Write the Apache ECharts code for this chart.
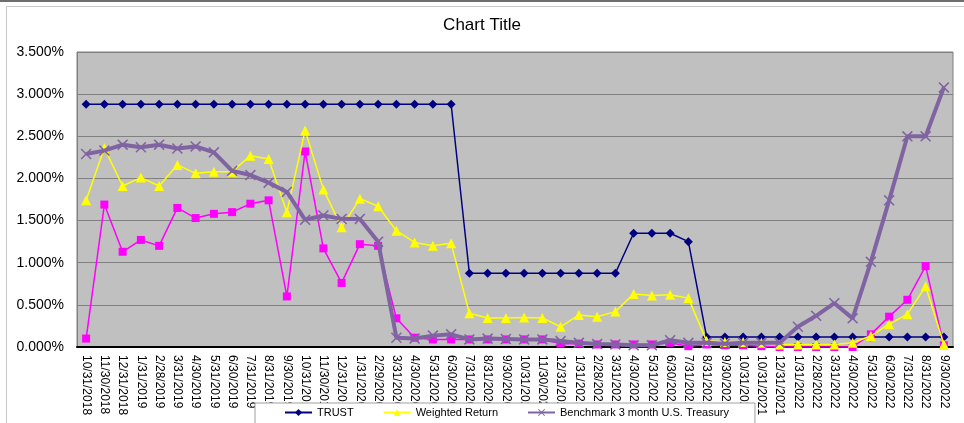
<!DOCTYPE html>
<html>
<head>
<meta charset="utf-8">
<style>
  html, body { margin: 0; padding: 0; background: #ffffff; }
  #chart { width: 964px; height: 423px; }
</style>
<script src="https://cdn.jsdelivr.net/npm/echarts@6/dist/echarts.min.js"></script>
</head>
<body>
<div id="chart"></div>
<script>
// Month-end dates (the source data repeats 10/31/2021)
const categories = [
  '10/31/2018','11/30/2018','12/31/2018',
  '1/31/2019','2/28/2019','3/31/2019','4/30/2019','5/31/2019','6/30/2019',
  '7/31/2019','8/31/2019','9/30/2019','10/31/2019','11/30/2019','12/31/2019',
  '1/31/2020','2/29/2020','3/31/2020','4/30/2020','5/31/2020','6/30/2020',
  '7/31/2020','8/31/2020','9/30/2020','10/31/2020','11/30/2020','12/31/2020',
  '1/31/2021','2/28/2021','3/31/2021','4/30/2021','5/31/2021','6/30/2021',
  '7/31/2021','8/31/2021','9/30/2021','10/31/2021','10/31/2021','12/31/2021',
  '1/31/2022','2/28/2022','3/31/2022','4/30/2022','5/31/2022','6/30/2022',
  '7/31/2022','8/31/2022','9/30/2022'
];

// Rates in percent
const trust = [
  2.88,2.88,2.88,2.88,2.88,2.88,2.88,2.88,2.88,2.88,2.88,2.88,
  2.88,2.88,2.88,2.88,2.88,2.88,2.88,2.88,2.88,
  0.875,0.875,0.875,0.875,0.875,0.875,0.875,0.875,0.875,
  1.35,1.35,1.35,1.25,
  0.12,0.12,0.12,0.12,0.12,0.12,0.12,0.12,0.12,0.12,0.12,0.12,0.12,0.12
];

const weightedReturn = [
  1.74,2.36,1.91,2.01,1.91,2.16,2.06,2.08,2.08,2.27,2.23,1.60,
  2.57,1.87,1.42,1.76,1.67,1.38,1.24,1.20,1.23,0.40,0.345,0.345,
  0.35,0.345,0.24,0.38,0.36,0.42,0.63,0.61,0.62,0.58,0.07,0.06,
  0.06,0.05,0.03,0.03,0.03,0.03,0.05,0.13,0.27,0.39,0.72,0.03
];

const fundYield = [
  0.10,1.69,1.13,1.27,1.20,1.65,1.53,1.58,1.60,1.70,1.74,0.60,
  2.32,1.17,0.76,1.22,1.20,0.34,0.11,0.09,0.09,0.09,0.09,0.09,
  0.09,0.09,0.04,0.04,0.03,0.03,0.03,0.03,0.05,0.01,0.03,0.02,
  0.02,0.01,0.00,0.00,0.00,0.00,0.00,0.15,0.36,0.56,0.96,0.02
];

const benchmark = [
  2.29,2.33,2.40,2.37,2.40,2.355,2.38,2.31,2.09,2.04,1.95,1.84,
  1.51,1.56,1.52,1.52,1.25,0.11,0.10,0.135,0.15,0.09,0.10,0.095,
  0.09,0.09,0.07,0.05,0.035,0.03,0.02,0.02,0.08,0.05,0.05,0.04,
  0.05,0.05,0.05,0.24,0.37,0.52,0.34,1.01,1.74,2.50,2.50,3.08
];

const yTicks = { min: 0, max: 3.5, step: 0.5 };

const FONT = "'Liberation Sans', Arial, sans-serif";
const X_MARK = 'path://M0,1L1,0L5,4L9,0L10,1L6,5L10,9L9,10L5,6L1,10L0,9L4,5Z';

const chart = echarts.init(document.getElementById('chart'), null, { renderer: 'canvas' });

chart.setOption({
  animation: false,
  backgroundColor: '#ffffff',
  textStyle: { fontFamily: FONT, color: '#000' },
  graphic: [
    { type: 'rect', left: 0, top: 0, shape: { width: 964, height: 2 },
      style: { fill: '#6e6e6e' }, z: 0 },
    { type: 'rect', left: 4, top: 4, shape: { width: 1000, height: 500 },
      style: { fill: 'none', stroke: '#c8c8c8', lineWidth: 1 }, z: 0, silent: true }
  ],
  title: {
    text: 'Chart Title',
    left: 'center',
    top: 12,
    textStyle: { fontFamily: FONT, fontSize: 17, fontWeight: 'normal', color: '#000' }
  },
  legend: {
    data: ['TRUST', 'Weighted Return', 'Benchmark 3 month U.S. Treasury'],
    left: 255,
    top: 403,
    padding: [4, 26, 12, 29],
    itemGap: 29,
    itemWidth: 27,
    itemHeight: 9,
    backgroundColor: '#ffffff',
    borderColor: '#a0a0a0',
    borderWidth: 1,
    borderRadius: 0,
    textStyle: { fontFamily: FONT, fontSize: 11, color: '#000' },
    z: 10
  },
  grid: {
    left: 77,
    right: 11,
    top: 52,
    bottom: 76,
    show: true,
    backgroundColor: '#c0c0c0',
    borderColor: '#808080',
    borderWidth: 1
  },
  xAxis: {
    type: 'category',
    data: categories,
    boundaryGap: true,
    axisLine: { show: true, lineStyle: { color: '#000', width: 2 } },
    axisTick: { show: false },
    axisLabel: {
      interval: 0,
      rotate: -90,
      margin: 8,
      fontFamily: FONT,
      fontSize: 12,
      color: '#000'
    },
    splitLine: { show: false }
  },
  yAxis: {
    type: 'value',
    min: yTicks.min,
    max: yTicks.max,
    interval: yTicks.step,
    axisLine: { show: true, lineStyle: { color: '#808080', width: 1 } },
    axisTick: { show: false },
    axisLabel: {
      margin: 13,
      fontFamily: FONT,
      fontSize: 14,
      color: '#000',
      formatter: v => v.toFixed(3) + '%'
    },
    splitLine: { show: true, lineStyle: { color: '#808080', width: 1 } }
  },
  series: [
    {
      name: 'TRUST',
      type: 'line',
      data: trust,
      symbol: 'diamond',
      symbolSize: 9,
      lineStyle: { color: '#000080', width: 1.5 },
      itemStyle: { color: '#000080' },
      z: 2
    },
    {
      name: 'Fund Yield',
      type: 'line',
      data: fundYield,
      symbol: 'rect',
      symbolSize: 8,
      lineStyle: { color: '#ff00ff', width: 1.5 },
      itemStyle: { color: '#ff00ff' },
      z: 3
    },
    {
      name: 'Weighted Return',
      type: 'line',
      data: weightedReturn,
      symbol: 'triangle',
      symbolSize: 10,
      lineStyle: { color: '#ffff00', width: 1.5 },
      itemStyle: { color: '#ffff00' },
      z: 4
    },
    {
      name: 'Benchmark 3 month U.S. Treasury',
      type: 'line',
      data: benchmark,
      symbol: X_MARK,
      symbolSize: 11,
      lineStyle: { color: '#8064a2', width: 4 },
      itemStyle: { color: '#8064a2' },
      z: 5
    }
  ]
});
</script>
</body>
</html>
